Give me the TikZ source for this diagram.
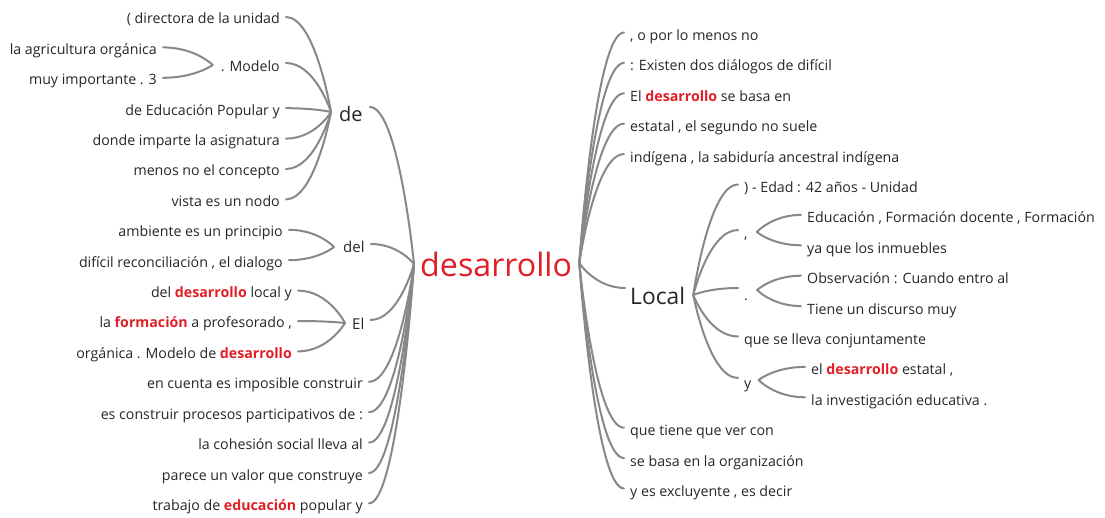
\documentclass[tikz,border=0pt]{standalone}
\usepackage{fontspec}
\setmainfont{Open Sans}
\usetikzlibrary{calc}
\definecolor{txt}{HTML}{262626}
\definecolor{redw}{RGB}{224,30,38}
\definecolor{ln}{HTML}{888888}
\newcommand\hl[1]{\textcolor{redw}{\textbf{#1}}}
\newcommand\cL[2]{\draw[conn] ($(#1.base east)+(6,-7)$) coordinate (t) .. controls ($(t)!0.65!(#2 |- t)$) and (#2) .. (#2);}
\newcommand\cR[2]{\draw[conn] ($(#1.base west)+(-6,-8)$) coordinate (t) .. controls ($(t)!0.65!(#2 |- t)$) and (#2) .. (#2);}
\newcommand\cC[2]{\draw[conn] (#1) .. controls ($(#1)!0.65!(#2 |- #1)$) and (#2) .. (#2);}
\begin{document}
\begin{tikzpicture}[x=1pt,y=-1pt,
  every node/.style={text=txt, inner sep=0pt, font=\fontsize{14.2}{17}\selectfont},
  conn/.style={draw=ln, line width=2pt, line cap=round},
  lf/.style={anchor=base east},
  rt/.style={anchor=base west},
  mid/.style={anchor=base west, font=\fontsize{15}{18}\selectfont}]
\useasboundingbox (0,0) rectangle (1105,518);

% root
\node[anchor=base west, text=redw, font=\fontsize{32.2}{37}\selectfont] (root) at (420,277) {desarrollo};
\coordinate (PL) at ($(root.base west)+(-6,-13)$);
\coordinate (PR) at ($(root.base east)+(7,-14)$);

% ---- left: de group
\node[anchor=base west, font=\fontsize{20}{24}\selectfont] (de) at (339,122) {de};
\coordinate (deW) at ($(de.base west)+(-8,-10)$);
\coordinate (deE) at ($(de.base east)+(7,-15)$);
\node[lf] (dA) at (280,24) {( directora de la unidad};
\node[lf] (dM) at (280,72) {. Modelo};
\coordinate (mW) at ($(dM.base west)+(-8,-7)$);
\coordinate (mE) at ($(dM.base east)+(6,-9)$);
\node[lf] (dmA) at (157,54.4) {la agricultura orgánica};
\node[lf] (dmB) at (157,84.8) {muy importante . 3};
\node[lf] (dB) at (280,115.2) {de Educación Popular y};
\node[lf] (dC) at (280,145.6) {donde imparte la asignatura};
\node[lf] (dD) at (280,176) {menos no el concepto};
\node[lf] (dE) at (280,206.4) {vista es un nodo};

% del group
\node[mid] (del) at (343,253) {del};
\coordinate (lW) at ($(del.base west)+(-9,-6)$);
\coordinate (lE) at ($(del.base east)+(6,-9)$);
\node[lf] (lA) at (283,236.8) {ambiente es un principio};
\node[lf] (lB) at (283,267.2) {difícil reconciliación , el dialogo};

% El group
\node[mid] (El) at (352,330) {El};
\coordinate (eW) at ($(El.base west)+(-7,-7)$);
\coordinate (eE) at ($(El.base east)+(6,-10)$);
\node[lf] (eA) at (292,297.6) {del \hl{desarrollo} local y};
\node[lf] (eB) at (292,328) {la \hl{formación} a profesorado ,};
\node[lf] (eC) at (292,358.4) {orgánica . Modelo de \hl{desarrollo}};

% direct left leaves
\node[lf] (L1) at (363,388.8) {en cuenta es imposible construir};
\node[lf] (L2) at (363,419.2) {es construir procesos participativos de :};
\node[lf] (L3) at (363,449.6) {la cohesión social lleva al};
\node[lf] (L4) at (363,480) {parece un valor que construye};
\node[lf] (L5) at (363,510.4) {trabajo de \hl{educación} popular y};

% ---- right
\node[rt] (R1) at (630,40.5) {, o por lo menos no};
\node[rt] (R2) at (630,70.9) {: Existen dos diálogos de difícil};
\node[rt] (R3) at (630,101.3) {El \hl{desarrollo} se basa en};
\node[rt] (R4) at (630,131.7) {estatal , el segundo no suele};
\node[rt] (R5) at (630,162.1) {indígena , la sabiduría ancestral indígena};
\node[anchor=base west, font=\fontsize{22.8}{27}\selectfont] (Local) at (630,305) {Local};
\coordinate (LcW) at ($(Local.base west)+(-5,-17)$);
\coordinate (LcE) at ($(Local.base east)+(8,-10)$);
\node[rt] (R6) at (630,435.7) {que tiene que ver con};
\node[rt] (R7) at (630,466.1) {se basa en la organización};
\node[rt] (R8) at (630,496.5) {y es excluyente , es decir};

% Local children
\node[rt] (K1) at (744,192.5) {) - Edad : 42 años - Unidad};
\node[rt] (cm) at (744,239) {,};
\coordinate (cmW) at ($(cm.base west)+(-6,-9)$);
\coordinate (cmE) at ($(cm.base east)+(9,-7)$);
\node[rt] (K2a) at (807,222.9) {Educación , Formación docente , Formación};
\node[rt] (K2b) at (807,253.3) {ya que los inmuebles};
\node[rt] (dt) at (744,301) {.};
\coordinate (dtW) at ($(dt.base west)+(-6,-13)$);
\coordinate (dtE) at ($(dt.base east)+(9,-11)$);
\node[rt] (K3a) at (807,283.7) {Observación : Cuando entro al};
\node[rt] (K3b) at (807,314.1) {Tiene un discurso muy};
\node[rt] (K4) at (744,344.5) {que se lleva conjuntamente};
\node[rt] (yy) at (744,388) {y};
\coordinate (yW) at ($(yy.base west)+(-6,-10)$);
\coordinate (yE) at ($(yy.base east)+(7,-8)$);
\node[rt] (K5a) at (811,374.9) {el \hl{desarrollo} estatal ,};
\node[rt] (K5b) at (811,405.3) {la investigación educativa .};

% ---- connectors left
\cL{dA}{deW}
\cC{mE}{deW}
\cL{dmA}{mW}
\cL{dmB}{mW}
\cL{dB}{deW}
\cL{dC}{deW}
\cL{dD}{deW}
\cL{dE}{deW}
\cC{deE}{PL}
\cL{lA}{lW}
\cL{lB}{lW}
\cC{lE}{PL}
\cL{eA}{eW}
\cL{eB}{eW}
\cL{eC}{eW}
\cC{eE}{PL}
\cL{L1}{PL}
\cL{L2}{PL}
\cL{L3}{PL}
\cL{L4}{PL}
\cL{L5}{PL}

% ---- connectors right
\cR{R1}{PR}
\cR{R2}{PR}
\cR{R3}{PR}
\cR{R4}{PR}
\cR{R5}{PR}
\cC{LcW}{PR}
\cR{R6}{PR}
\cR{R7}{PR}
\cR{R8}{PR}
\cR{K1}{LcE}
\cC{cmW}{LcE}
\cR{K2a}{cmE}
\cR{K2b}{cmE}
\cC{dtW}{LcE}
\cR{K3a}{dtE}
\cR{K3b}{dtE}
\cR{K4}{LcE}
\cC{yW}{LcE}
\cR{K5a}{yE}
\cR{K5b}{yE}
\end{tikzpicture}
\end{document}
